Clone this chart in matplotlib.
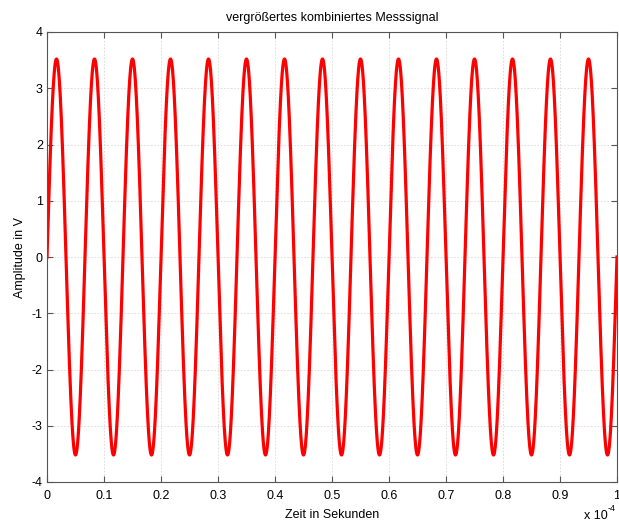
import numpy as np
import matplotlib.pyplot as plt
from matplotlib.ticker import FuncFormatter

plt.rcParams['font.family'] = ['Liberation Sans', 'DejaVu Sans']

# signal parameters
amplitude = 3.52          # V
frequency = 150e3         # Hz (15 periods in 0.1 ms)
t_end = 1e-4              # s

title = "vergrößertes kombiniertes Messsignal"
x_label = "Zeit in Sekunden"
y_label = "Amplitude in V"
x_ticks = [0, 0.1, 0.2, 0.3, 0.4, 0.5, 0.6, 0.7, 0.8, 0.9, 1]
y_ticks = [-4, -3, -2, -1, 0, 1, 2, 3, 4]

t = np.linspace(0, t_end, 4001)
signal = amplitude * np.sin(2 * np.pi * frequency * t)

fig = plt.figure(figsize=(6.19, 5.24), dpi=100)
ax = fig.add_axes([47 / 619, 1 - 482 / 524, 570 / 619, 450 / 524])

ax.plot(t, signal, color="red", linewidth=2.3)

ax.set_xlim(0, t_end)
ax.set_ylim(-4, 4)
ax.set_xticks([v * 1e-4 for v in x_ticks])
ax.xaxis.set_major_formatter(FuncFormatter(lambda v, pos: "%g" % round(v * 1e4, 3)))
ax.set_yticks(y_ticks)
ax.yaxis.set_major_formatter(FuncFormatter(lambda v, pos: "%g" % v))

ax.grid(True, color="#d8d8d8", linestyle=(0, (2, 2)), linewidth=0.6)
ax.tick_params(direction="in", top=True, right=True, length=4, labelsize=9,
               color="#555555", pad=3)
ax.tick_params(axis="x", pad=6)
for s in ax.spines.values():
    s.set_color("#555555")
    s.set_linewidth(0.8)

ax.set_title(title, fontsize=9, pad=8)
ax.set_xlabel(x_label, fontsize=9, labelpad=5)
ax.set_ylabel(y_label, fontsize=9, labelpad=4)

# MATLAB-style exponent label
fig.text(584 / 619, 1 - 519 / 524, "x 10", fontsize=9, va="baseline")
fig.text(608 / 619, 1 - 511 / 524, "-4", fontsize=6.5, va="baseline")

fig.savefig("out.png", dpi=100)
